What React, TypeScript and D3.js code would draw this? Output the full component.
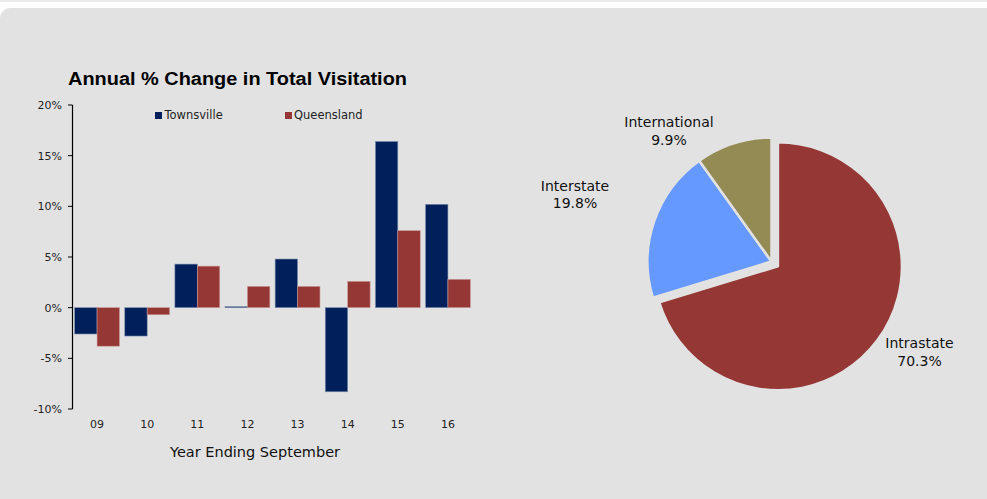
import React from "react";
import * as d3 from "d3";

const categories = ["09", "10", "11", "12", "13", "14", "15", "16"];
const townsville = [-2.6, -2.8, 4.3, 0.1, 4.8, -8.3, 16.4, 10.2];
const queensland = [-3.8, -0.7, 4.1, 2.1, 2.1, 2.6, 7.6, 2.8];
const seriesNames = ["Townsville", "Queensland"];
const yTicks = [-10, -5, 0, 5, 10, 15, 20];

const pieLabels = ["Intrastate", "Interstate", "International"];
const pieValues = [70.3, 19.8, 9.9];

const W = 987;
const H = 499;
const barColors = ["#001f5b", "#953735"];
const pieColors = ["#953735", "#6699ff", "#948a54"];
const FONT = "'DejaVu Sans', 'Noto Sans', sans-serif";

export default function App() {
  const x0 = d3.scaleBand<string>().domain(categories).range([72, 473]).paddingInner(0).paddingOuter(0);
  const x1 = d3.scaleBand<string>().domain(seriesNames).range([0, x0.bandwidth()]).paddingInner(0).paddingOuter(0.118);
  const y = d3.scaleLinear().domain([-10, 20]).range([409, 105]);

  const pieData = d3.pie<number>().sort(null).value((d) => d)(pieValues);
  const R = 124;
  const arc = d3.arc<d3.PieArcDatum<number>>().innerRadius(0).outerRadius(R);
  const cx = 771.5;
  const cy = 261.5;
  const explode = [8, 0, 0];
  const labelPos = [
    [919.5, 343.5],
    [575, 186],
    [669, 122.5],
  ];

  const series = [townsville, queensland];

  return (
    <svg width={W} height={H} style={{ position: "absolute", left: 0, top: 0 }} fontFamily={FONT}>
      <rect x={0} y={0} width={W} height={H} fill="#ffffff" />
      <rect x={0} y={0} width={W} height={2} fill="#ebebeb" />
      <rect x={0} y={8} width={W + 20} height={H + 20} rx={10} fill="#e2e2e2" />

      <text x={68} y={85} fontFamily="'Liberation Sans', Arial, sans-serif" fontWeight="bold" fontSize={18} fill="#000" textLength={339} lengthAdjust="spacingAndGlyphs">
        Annual % Change in Total Visitation
      </text>

      {/* bars */}
      {categories.map((c, i) =>
        series.map((s, j) => {
          const v = s[i];
          const bx = (x0(c) as number) + (x1(seriesNames[j]) as number);
          const y0 = y(0);
          const yv = y(v);
          return (
            <rect
              key={c + j}
              x={bx}
              y={Math.min(y0, yv)}
              width={x1.bandwidth()}
              height={Math.max(Math.abs(yv - y0), 0.8)}
              fill={barColors[j]}
              stroke={j === 0 ? "#7f8fb0" : "#c89a98"}
              strokeWidth={0.6}
            />
          );
        })
      )}

      {/* y axis */}
      <line x1={72.5} x2={72.5} y1={y(20)} y2={y(-10)} stroke="#000" strokeWidth={1.2} />
      {yTicks.map((t) => (
        <g key={t}>
          <line x1={68} x2={72.5} y1={y(t)} y2={y(t)} stroke="#000" strokeWidth={1} />
          <text x={62} y={y(t) + 4} textAnchor="end" fontSize={11} fill="#222">
            {t}%
          </text>
        </g>
      ))}
      {categories.map((c) => (
        <text key={c} x={(x0(c) as number) + x0.bandwidth() / 2} y={428} textAnchor="middle" fontSize={11} fill="#222">
          {c}
        </text>
      ))}
      <text x={255} y={457} textAnchor="middle" fontSize={14.5} fill="#111">
        Year Ending September
      </text>

      {/* legend */}
      {seriesNames.map((n, j) => (
        <g key={n}>
          <rect x={j === 0 ? 155 : 285} y={112} width={7} height={7} fill={barColors[j]} />
          <text x={j === 0 ? 164.5 : 294} y={119} fontSize={11.5} fill="#222">
            {n}
          </text>
        </g>
      ))}

      {/* pie */}
      {pieData.map((d, i) => {
        const mid = (d.startAngle + d.endAngle) / 2;
        const dx = Math.sin(mid) * explode[i];
        const dy = -Math.cos(mid) * explode[i];
        return (
          <path
            key={i}
            d={arc(d) as string}
            transform={`translate(${cx + dx},${cy + dy})`}
            fill={pieColors[i]}
            stroke="#e2e2e2"
            strokeWidth={2.5}
            strokeLinejoin="round"
          />
        );
      })}
      {pieLabels.map((l, i) => (
        <text key={l} x={labelPos[i][0]} y={labelPos[i][1]} textAnchor="middle" fontSize={14} fill="#111">
          <tspan x={labelPos[i][0]} dy="0.35em">{l}</tspan>
          <tspan x={labelPos[i][0]} dy="1.25em">{pieValues[i].toFixed(1)}%</tspan>
        </text>
      ))}
    </svg>
  );
}
